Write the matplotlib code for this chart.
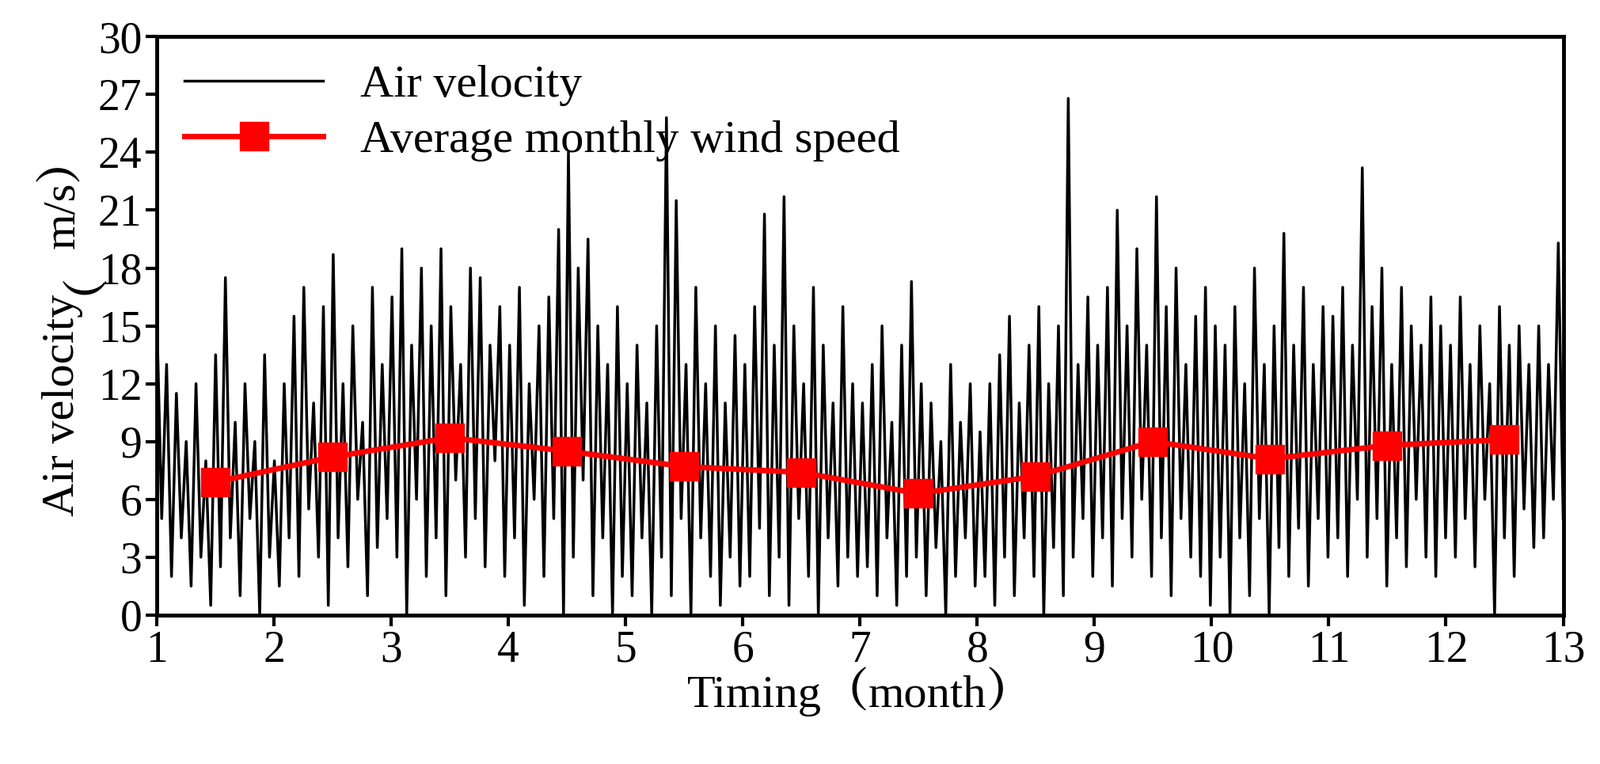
import matplotlib
matplotlib.use("Agg")
import matplotlib.pyplot as plt
from matplotlib import font_manager as fm
import numpy as np

plt.rcParams["font.family"] = ["Liberation Serif"]

# hourly-ish samples (24 per month, months 1..12)
air_velocity = [
 15.7, 5.0, 13.0, 2.0, 11.5, 4.0, 9.0, 1.5, 12.0, 3.0, 8.0, 0.5, 13.5, 2.5, 17.5, 4.0, 10.0, 1.0, 12.0, 5.0, 9.0, 0.0, 13.5, 3.0,
 8.0, 1.5, 12.0, 4.0, 15.5, 2.0, 17.0, 5.5, 11.0, 3.0, 16.0, 0.5, 18.7, 4.0, 12.0, 2.5, 15.0, 6.0, 10.0, 1.0, 17.0, 3.5, 13.0, 5.0,
 16.5, 3.0, 19.0, 0.0, 14.0, 6.0, 18.0, 2.0, 15.0, 4.0, 19.0, 1.0, 16.0, 7.0, 13.0, 3.0, 18.0, 5.0, 17.5, 2.5, 14.0, 8.0, 16.0, 2.0,
 14.0, 4.0, 17.0, 0.5, 12.0, 6.0, 15.0, 2.0, 16.5, 5.0, 20.0, 0.0, 24.0, 3.0, 18.0, 7.0, 19.5, 1.0, 15.0, 4.0, 13.0, 0.0, 16.0, 2.0,
 12.0, 1.0, 14.0, 4.0, 11.0, 0.0, 15.0, 3.0, 25.8, 1.0, 21.5, 5.0, 13.0, 0.0, 17.0, 4.0, 12.0, 2.0, 15.0, 0.5, 11.0, 3.0, 14.5, 1.5,
 13.0, 2.0, 16.0, 4.5, 20.8, 1.0, 14.0, 3.0, 21.7, 0.5, 15.0, 5.0, 12.0, 2.0, 17.0, 0.0, 14.0, 4.0, 11.0, 1.5, 16.0, 3.0, 12.0, 2.0,
 11.0, 2.5, 13.0, 1.0, 15.0, 4.0, 10.0, 0.5, 14.0, 2.0, 17.3, 3.0, 12.0, 1.0, 11.0, 3.5, 9.0, 0.0, 13.0, 2.0, 10.0, 4.0, 12.0, 1.5,
 9.5, 2.0, 12.0, 0.5, 13.5, 3.0, 15.5, 1.0, 11.0, 4.0, 14.0, 2.0, 16.0, 0.0, 12.0, 3.5, 15.0, 1.0, 26.8, 3.0, 13.0, 5.0, 16.5, 2.0,
 14.0, 4.0, 17.0, 1.5, 21.0, 5.0, 15.0, 3.0, 19.0, 6.0, 14.0, 2.0, 21.7, 4.0, 16.0, 1.0, 18.0, 5.0, 13.0, 3.0, 15.5, 2.0, 17.0, 0.5,
 15.0, 3.0, 14.0, 0.0, 16.0, 4.0, 12.0, 1.0, 18.0, 5.0, 13.0, 0.0, 15.0, 3.5, 19.8, 2.0, 14.0, 4.5, 17.0, 1.5, 13.0, 5.0, 16.0, 3.0,
 15.5, 4.0, 17.0, 2.0, 14.0, 6.0, 23.2, 3.0, 16.0, 5.0, 18.0, 1.5, 13.0, 4.0, 17.0, 2.5, 15.0, 6.0, 14.0, 3.0, 16.5, 2.0, 15.0, 4.0,
 14.0, 3.0, 16.5, 5.0, 13.0, 2.5, 15.0, 6.0, 12.0, 0.0, 16.0, 4.0, 14.0, 2.0, 15.0, 5.5, 13.0, 3.5, 15.0, 4.0, 13.0, 6.0, 19.3, 5.0,
]
months = [1.5, 2.5, 3.5, 4.5, 5.5, 6.5, 7.5, 8.5, 9.5, 10.5, 11.5, 12.5]
monthly_avg = [6.9, 8.2, 9.2, 8.5, 7.7, 7.4, 6.3, 7.2, 9.0, 8.1, 8.8, 9.1]
xticks = list(range(1, 14))
yticks = list(range(0, 31, 3))
xlabel_parts = ["Timing", "（", "month", "）"]
ylabel_parts = ["Air velocity", "（", "m/s", "）"]

cjk_path = None
for f in fm.findSystemFonts():
    if "NotoSansCJK" in f or "NotoSerifCJK" in f or "notosanscjk" in f.lower():
        cjk_path = f
        break
for fe in fm.fontManager.ttflist:
    if cjk_path is None and "CJK" in fe.name:
        cjk_path = fe.fname
cjk_prop = fm.FontProperties(fname=cjk_path, size=42) if cjk_path else fm.FontProperties(family="DejaVu Sans", size=42)
ser_prop = fm.FontProperties(family="Liberation Serif", size=42)

fig = plt.figure(figsize=(20.21, 9.65), dpi=100)
ax = fig.add_axes([0.098, 0.195, 0.879, 0.757])
t = np.linspace(1, 13, len(air_velocity))
ax.plot(t, air_velocity, color="black", lw=2.5, label="Air velocity")
ax.plot(months, monthly_avg, color="red", lw=5, marker="s", ms=26,
        label="Average monthly wind speed")
ax.set_xlim(1, 13)
ax.set_ylim(0, 30)
ax.set_xticks(xticks)
ax.set_yticks(yticks)
ax.tick_params(labelsize=40, width=3, length=10, direction="out")
for s in ax.spines.values():
    s.set_linewidth(3.5)
ax.legend(loc="upper left", fontsize=42, frameon=False, handlelength=3,
          borderaxespad=0.2, labelspacing=0.3)

def prop(p):
    return cjk_prop if p in ("（", "）") else ser_prop

fig.canvas.draw()
r = fig.canvas.get_renderer()
bb = ax.get_window_extent(r)
texts = [fig.text(0, 0, p, fontproperties=prop(p)) for p in xlabel_parts]
ws = [tx.get_window_extent(r).width for tx in texts]
x0 = (bb.x0 + bb.x1) / 2 - sum(ws) / 2
yb = 0.075 * fig.bbox.height
for tx, w in zip(texts, ws):
    tx.set_transform(None); tx.set_position((x0, yb)); tx.set_va("baseline")
    x0 += w
# y label: measure widths unrotated, then place rotated pieces along a common baseline
tmp = [fig.text(0, 0, p, fontproperties=prop(p)) for p in ylabel_parts]
hs = [tx.get_window_extent(r).width for tx in tmp]
for tx in tmp:
    tx.remove()
y0 = (bb.y0 + bb.y1) / 2 - sum(hs) / 2
xl = 0.046 * fig.bbox.width
for p, h in zip(ylabel_parts, hs):
    fig.text(xl, y0, p, fontproperties=prop(p), rotation=90, rotation_mode="anchor",
             ha="left", va="baseline", transform=None)
    y0 += h
fig.savefig("out.png", dpi=100)
